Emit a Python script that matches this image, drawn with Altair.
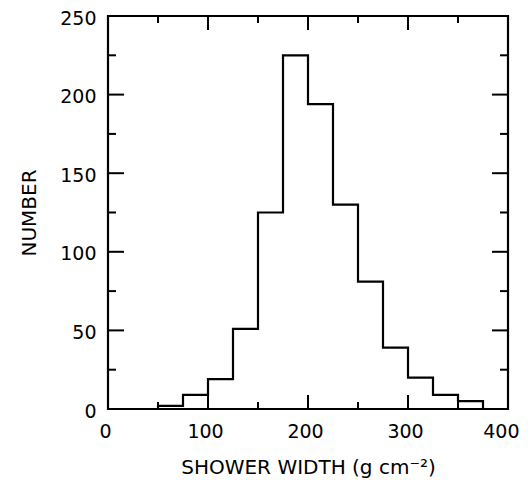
import altair as alt
import pandas as pd

# Histogram bins (left edges, width 25 g cm^-2) and counts
bin_left = [50, 75, 100, 125, 150, 175, 200, 225, 250, 275, 300, 325, 350]
counts = [2, 9, 19, 51, 125, 225, 194, 130, 81, 39, 20, 9, 5]
bin_width = 25

x_labels = [0, 100, 200, 300, 400]
y_labels = [0, 50, 100, 150, 200, 250]
x_major = [100, 200, 300]
x_minor = [50, 150, 250, 350]
y_major = [50, 100, 150, 200]
y_minor = [25, 75, 125, 175, 225]

W, H = 400, 393
FONT = "DejaVu Sans"

xs = [bin_left[0]] + bin_left + [bin_left[-1] + bin_width]
ys = [0] + counts + [0]
step_df = pd.DataFrame({"x": xs, "y": ys, "i": list(range(len(xs)))})

xscale = alt.Scale(domain=[0, 400], nice=False, zero=False)
yscale = alt.Scale(domain=[0, 250], nice=False)

x_axis = alt.Axis(values=x_labels, title="SHOWER WIDTH (g cm⁻²)", ticks=False, domain=False,
                  grid=False, labelFontSize=19, labelFont=FONT, labelColor="black",
                  labelPadding=13, titleFont=FONT, titleFontSize=20, titleFontWeight="normal",
                  titleColor="black", titlePadding=16, labelFlush=False,
                  labelAlign={"condition": {"test": "datum.value == 400", "value": "right"}, "value": "center"},
                  labelOffset={"condition": {"test": "datum.value == 400", "value": 11}, "value": -3})
y_axis = alt.Axis(values=y_labels, title="NUMBER", ticks=False, domain=False, grid=False,
                  labelFontSize=19, labelFont=FONT, labelColor="black", labelPadding=12,
                  labelOffset=2,
                  titleFont=FONT, titleFontSize=20, titleFontWeight="normal",
                  titleColor="black", titlePadding=20, labelFlush=False)

line = alt.Chart(step_df).mark_line(interpolate="step-after", color="black", strokeWidth=2.2).encode(
    x=alt.X("x:Q", scale=xscale, axis=x_axis),
    y=alt.Y("y:Q", scale=yscale, axis=y_axis),
    order=alt.Order("i:Q"),
)

def xticks(vals, length):
    df = pd.DataFrame({"v": vals})
    bottom = alt.Chart(df).mark_rule(color="black", strokeWidth=2).encode(
        x=alt.X("v:Q", scale=xscale), y=alt.value(H), y2=alt.value(H - length))
    top = alt.Chart(df).mark_rule(color="black", strokeWidth=2).encode(
        x=alt.X("v:Q", scale=xscale), y=alt.value(0), y2=alt.value(length))
    return bottom + top

def yticks(vals, length):
    df = pd.DataFrame({"v": vals})
    left = alt.Chart(df).mark_rule(color="black", strokeWidth=2).encode(
        y=alt.Y("v:Q", scale=yscale), x=alt.value(0), x2=alt.value(length))
    right = alt.Chart(df).mark_rule(color="black", strokeWidth=2).encode(
        y=alt.Y("v:Q", scale=yscale), x=alt.value(W), x2=alt.value(W - length))
    return left + right

chart = alt.layer(
    line,
    xticks(x_major, 14), xticks(x_minor, 7),
    yticks(y_major, 16), yticks(y_minor, 8),
).properties(
    width=W, height=H,
    autosize=alt.AutoSizeParams(type="none"),
    padding={"left": 100, "top": 8, "right": 12, "bottom": 71},
    background="white",
).configure_view(stroke="black", strokeWidth=2.2)

chart.save("out.html", embed_options={"renderer": "svg", "actions": False})
